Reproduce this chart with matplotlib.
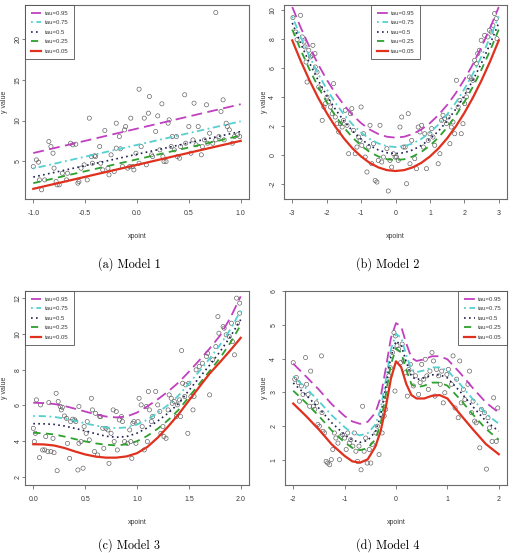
import matplotlib
matplotlib.use("Agg")
import matplotlib.pyplot as plt
import numpy as np

plt.rcParams['axes.unicode_minus'] = False
SANS = ['Liberation Sans Narrow', 'Liberation Sans', 'DejaVu Sans']
plt.rcParams['font.family'] = SANS

# ---------------- data ----------------
taus = ["tau=0.95", "tau=0.75", "tau=0.5", "tau=0.25", "tau=0.05"]

# Model 1
m1_x = [-1.0, -0.97, -0.95, -0.94, -0.92, -0.89, -0.85, -0.83, -0.81, -0.80, -0.78, -0.77, -0.75, -0.72,
        -0.68, -0.67, -0.64, -0.62, -0.59, -0.57, -0.56, -0.54, -0.51, -0.48, -0.46, -0.44, -0.43, -0.41,
        -0.40, -0.36, -0.35, -0.33, -0.31, -0.28, -0.27, -0.25, -0.22, -0.20, -0.20, -0.17, -0.16, -0.14,
        -0.12, -0.11, -0.09, -0.07, -0.06, -0.04, -0.03, -0.01, 0.02, 0.02, 0.04, 0.07, 0.09, 0.11, 0.12,
        0.14, 0.15, 0.18, 0.20, 0.22, 0.24, 0.25, 0.26, 0.28, 0.30, 0.31, 0.33, 0.34, 0.36, 0.38, 0.39,
        0.41, 0.42, 0.46, 0.47, 0.50, 0.52, 0.54, 0.55, 0.57, 0.59, 0.62, 0.63, 0.65, 0.67, 0.68, 0.70,
        0.73, 0.76, 0.76, 0.79, 0.81, 0.83, 0.84, 0.86, 0.87, 0.89, 0.92, 0.94, 0.97, 0.99]
m1_y = [4.34, 5.16, 4.88, 2.70, 1.48, 2.70, 7.42, 6.80, 5.98, 4.14, 2.50, 2.09, 2.09, 3.52,
        2.70, 3.52, 7.21, 7.01, 7.09, 2.30, 2.50, 4.14, 4.55, 2.70, 10.29, 5.57, 4.75, 5.66,
        5.57, 6.80, 4.75, 3.93, 8.77, 4.14, 3.32, 5.78, 3.73, 9.67, 6.60, 8.03, 6.52, 4.34,
        8.85, 9.26, 4.14, 4.34, 10.29, 4.34, 3.93, 5.98, 13.85, 4.75, 6.80, 10.29, 4.55, 10.90, 12.95,
        5.78, 5.57, 8.65, 10.57, 6.39, 12.05, 5.57, 4.96, 4.96, 9.67, 10.08, 6.80, 8.03, 6.39, 8.03, 5.57,
        5.37, 6.80, 13.16, 7.21, 9.26, 5.98, 7.62, 12.13, 7.01, 9.26, 5.78, 6.80, 7.62, 11.93, 7.21, 8.44,
        7.21, 23.28, 7.62, 8.03, 11.11, 12.54, 7.62, 9.67, 9.26, 8.85, 7.21, 8.03, 8.24, 8.03]
m1_cx = [-1.0, 1.0]
m1_curves = [[6.0, 12.0], [4.1, 9.9], [3.05, 8.65], [2.3, 8.15], [1.6, 7.5]]

# Model 2
m2_x = [-2.98, -2.90, -2.86, -2.76, -2.71, -2.66, -2.63, -2.60, -2.57, -2.52, -2.47, -2.42, -2.40, -2.34,
        -2.33, -2.28, -2.23, -2.18, -2.13, -2.08, -2.04, -1.99, -1.94, -1.89, -1.84, -1.80, -1.75, -1.70,
        -1.65, -1.60, -1.55, -1.51, -1.46, -1.41, -1.36, -1.31, -1.27, -1.22, -1.17, -1.12, -1.07, -1.03,
        -1.00, -0.98, -0.93, -0.88, -0.83, -0.78, -0.74, -0.69, -0.64, -0.59, -0.54, -0.50, -0.45, -0.40,
        -0.35, -0.25, -0.21, -0.16, -0.11, -0.06, -0.01, 0.03, 0.08, 0.13, 0.18, 0.23, 0.28, 0.32, 0.37,
        0.42, 0.47, 0.56, 0.61, 0.66, 0.71, 0.76, 0.81, 0.85, 0.90, 0.95, 1.00, 1.05, 1.09, 1.14, 1.24,
        1.29, 1.34, 1.38, 1.43, 1.48, 1.53, 1.58, 1.62, 1.67, 1.72, 1.77, 1.82, 1.87, 1.91, 1.96, 2.01,
        2.06, 2.11, 2.15, 2.20, 2.25, 2.30, 2.35, 2.39, 2.44, 2.49, 2.59, 2.68, 2.73, 2.78, 2.83, 2.88,
        2.93, 2.95]
m2_y = [9.47, 8.48, 7.95, 9.63, 8.14, 7.79, 7.45, 6.41, 5.03, 7.22, 6.76, 6.87, 7.56, 6.99,
        6.07, 5.72, 4.69, 4.57, 2.39, 3.31, 3.54, 4.00, 3.66, 3.31, 2.85, 4.92, 2.62, 2.16,
        1.59, 2.16, 1.93, 2.39, 3.08, 2.05, 0.09, 2.85, 3.20, 1.70, 0.09, 0.55, 1.24, 1.01,
        3.31, 0.67, 1.47, -0.14, -1.17, 0.55, 2.05, -0.60, 0.78, -1.75, -1.86, -0.37, 2.05, -0.48,
        -0.14, 0.44, -2.48, -0.37, -0.83, 0.09, -0.14, -0.14, -0.37, 1.93, 2.62, 0.55, 0.55, -1.98, 2.85,
        -0.60, 1.01, -0.25, -0.94, 1.93, 1.59, 2.05, 0.55, 1.47, -0.94, 1.01, 1.47, 1.82, 1.24, 0.67, -0.60,
        0.09, 2.39, 2.74, 2.51, 2.16, 2.62, 0.78, 1.93, 2.28, 1.47, 5.15, 3.31, 3.77, 1.47, 2.16, 3.54,
        4.00, 4.46, 5.38, 5.26, 5.15, 6.53, 6.30, 6.99, 7.22, 7.91, 8.25, 8.14, 8.60, 8.48, 8.94, 9.75,
        9.40, 8.02]
m2_cx = [-3.0, -2.75, -2.5, -2.25, -2.0, -1.75, -1.5, -1.25, -1.0, -0.75, -0.5, -0.25, 0.0,
         0.25, 0.5, 0.75, 1.0, 1.25, 1.5, 1.75, 2.0, 2.25, 2.5, 2.75, 3.0]
m2_curves = [
    [10.2, 8.76, 7.45, 6.26, 5.2, 4.26, 3.45, 2.76, 2.2, 1.76, 1.45, 1.26, 1.2,
     1.26, 1.45, 1.76, 2.2, 2.76, 3.45, 4.26, 5.2, 6.26, 7.45, 8.76, 10.2],
    [9.55, 8.11, 6.8, 5.61, 4.55, 3.61, 2.8, 2.11, 1.55, 1.11, 0.8, 0.61, 0.55,
     0.61, 0.8, 1.11, 1.55, 2.11, 2.8, 3.61, 4.55, 5.61, 6.8, 8.11, 9.55],
    [9.1, 7.66, 6.35, 5.16, 4.1, 3.16, 2.35, 1.66, 1.1, 0.66, 0.35, 0.16, 0.1,
     0.16, 0.35, 0.66, 1.1, 1.66, 2.35, 3.16, 4.1, 5.16, 6.35, 7.66, 9.1],
    [8.65, 7.21, 5.9, 4.71, 3.65, 2.71, 1.9, 1.21, 0.65, 0.21, -0.1, -0.29, -0.35,
     -0.29, -0.1, 0.21, 0.65, 1.21, 1.9, 2.71, 3.65, 4.71, 5.9, 7.21, 8.65],
    [7.9, 6.46, 5.15, 3.96, 2.9, 1.96, 1.15, 0.46, -0.1, -0.54, -0.85, -1.04, -1.1,
     -1.04, -0.85, -0.54, -0.1, 0.46, 1.15, 1.96, 2.9, 3.96, 5.15, 6.46, 7.9],
]

# Model 3
m3_x = [0.0, 0.01, 0.02, 0.03, 0.06, 0.07, 0.09, 0.11, 0.12, 0.14, 0.15, 0.17, 0.19, 0.20, 0.22, 0.23,
        0.24, 0.26, 0.27, 0.28, 0.30, 0.32, 0.33, 0.35, 0.36, 0.38, 0.40, 0.41, 0.43, 0.44, 0.44, 0.46,
        0.48, 0.49, 0.51, 0.52, 0.54, 0.56, 0.57, 0.59, 0.60, 0.62, 0.64, 0.65, 0.67, 0.68, 0.70, 0.72,
        0.73, 0.75, 0.77, 0.78, 0.80, 0.81, 0.83, 0.85, 0.86, 0.88, 0.91, 0.93, 0.94, 0.95, 0.96, 0.97,
        0.99, 1.01, 1.02, 1.04, 1.05, 1.07, 1.09, 1.10, 1.11, 1.12, 1.14, 1.15, 1.18, 1.20, 1.22, 1.23,
        1.25, 1.26, 1.28, 1.30, 1.31, 1.33, 1.34, 1.36, 1.38, 1.39, 1.41, 1.42, 1.43, 1.44, 1.46, 1.47,
        1.49, 1.50, 1.52, 1.54, 1.55, 1.57, 1.60, 1.63, 1.67, 1.68, 1.70, 1.73, 1.76, 1.78, 1.79, 1.83,
        1.84, 1.86, 1.89, 1.91, 1.92, 1.94, 1.96, 1.97, 1.99, 1.99]
m3_y = [4.72, 3.98, 4.44, 6.31, 3.08, 6.03, 3.51, 3.51, 4.26, 3.42, 6.16, 3.42, 4.16, 3.36, 6.68, 2.35,
        6.22, 5.94, 5.75, 5.90, 5.41, 5.28, 3.88, 3.04, 5.10, 5.23, 5.19, 5.10, 2.39, 5.94, 3.88, 3.98,
        2.49, 4.82, 4.44, 5.10, 4.07, 6.40, 5.75, 3.42, 5.56, 3.23, 5.38, 5.38, 4.72, 3.60, 4.72, 4.63,
        2.76, 4.44, 5.75, 3.98, 5.66, 3.51, 5.19, 5.38, 5.10, 3.98, 3.88, 4.63, 3.98, 3.04, 5.00, 5.10,
        3.88, 5.10, 6.40, 6.03, 4.82, 3.51, 5.94, 3.98, 6.78, 5.75, 5.10, 5.38, 6.78, 6.03, 5.66, 4.44,
        4.82, 4.26, 4.16, 5.75, 6.59, 6.40, 6.12, 6.22, 5.38, 6.03, 6.31, 5.38, 9.07, 7.24, 6.50, 7.15,
        4.44, 7.24, 6.50, 5.75, 6.50, 7.99, 8.18, 8.36, 8.74, 8.92, 6.59, 8.55, 9.29, 10.97, 10.04, 10.41,
        10.32, 9.95, 9.85, 10.60, 9.57, 8.83, 12.0, 10.60, 11.16, 11.72]
m3_cx = [0.0, 0.1, 0.2, 0.3, 0.4, 0.5, 0.6, 0.7, 0.8, 0.9, 1.0, 1.1, 1.2, 1.3, 1.4, 1.5, 1.6, 1.7, 1.8, 1.9, 2.0]
m3_curves = [
    [6.15, 6.13, 6.08, 5.97, 5.82, 5.66, 5.5, 5.38, 5.33, 5.38, 5.6, 5.95, 6.34, 6.78, 7.28, 7.88, 8.52, 9.18, 9.9, 10.9, 12.1],
    [5.41, 5.40, 5.36, 5.27, 5.14, 5.0, 4.87, 4.77, 4.73, 4.77, 4.93, 5.2, 5.59, 6.03, 6.55, 7.22, 7.9, 8.62, 9.38, 10.25, 11.3],
    [4.98, 4.97, 4.94, 4.85, 4.72, 4.58, 4.42, 4.28, 4.22, 4.26, 4.45, 4.75, 5.13, 5.57, 6.1, 6.84, 7.55, 8.25, 9.0, 9.85, 10.8],
    [4.47, 4.44, 4.38, 4.26, 4.12, 3.99, 3.88, 3.8, 3.77, 3.82, 4.0, 4.3, 4.7, 5.18, 5.75, 6.47, 7.2, 7.92, 8.65, 9.5, 10.5],
    [3.83, 3.82, 3.76, 3.62, 3.43, 3.26, 3.14, 3.08, 3.08, 3.15, 3.33, 3.68, 4.2, 4.82, 5.5, 6.27, 7.03, 7.78, 8.42, 9.08, 9.78],
]

# Model 4
m4_x = [-2.0, -1.97, -1.94, -1.90, -1.88, -1.84, -1.81, -1.76, -1.74, -1.71, -1.68, -1.66, -1.61, -1.58,
        -1.55, -1.52, -1.49, -1.45, -1.44, -1.42, -1.39, -1.36, -1.33, -1.29, -1.26, -1.23, -1.20, -1.17,
        -1.13, -1.10, -1.07, -1.04, -1.00, -0.97, -0.94, -0.91, -0.88, -0.84, -0.81, -0.78, -0.75, -0.72,
        -0.68, -0.65, -0.62, -0.59, -0.56, -0.52, -0.49, -0.46, -0.39, -0.36, -0.33, -0.30, -0.27, -0.23,
        -0.22, -0.20, -0.17, -0.14, -0.11, -0.07, -0.04, -0.02, -0.01, 0.02, 0.05, 0.09, 0.12, 0.15, 0.18,
        0.22, 0.25, 0.28, 0.31, 0.34, 0.38, 0.44, 0.47, 0.50, 0.54, 0.57, 0.60, 0.63, 0.66, 0.70, 0.73,
        0.76, 0.79, 0.83, 0.86, 0.89, 0.92, 0.95, 0.99, 1.02, 1.08, 1.11, 1.15, 1.18, 1.21, 1.24, 1.27,
        1.31, 1.34, 1.40, 1.43, 1.47, 1.50, 1.53, 1.56, 1.63, 1.66, 1.72, 1.76, 1.79, 1.82, 1.87, 1.90,
        1.95, 1.98]
m4_y = [3.88, 3.39, 3.44, 3.29, 2.74, 3.19, 2.94, 4.03, 3.24, 2.94, 2.59, 3.63, 2.59, 2.50,
        2.69, 2.05, 2.00, 4.08, 2.40, 1.85, 1.80, 0.96, 0.91, 0.86, 1.01, 1.31, 1.80, 1.65,
        1.50, 1.01, 1.70, 1.75, 1.65, 1.31, 1.80, 1.50, 1.60, 1.41, 1.80, 1.26, 0.96, 1.41,
        0.71, 2.59, 1.26, 1.65, 0.91, 1.31, 0.91, 1.46, 1.80, 2.00, 1.16, 2.35, 1.80, 2.30,
        2.79, 2.50, 3.09, 3.49, 3.73, 4.18, 4.77, 3.04, 4.67, 4.38, 4.28, 3.88, 4.43, 3.93, 3.58,
        2.89, 3.68, 3.83, 3.58, 3.19, 3.49, 2.94, 3.29, 3.83, 3.39, 3.98, 3.49, 3.09, 3.63, 4.18, 3.93,
        2.89, 3.68, 3.49, 3.24, 3.63, 2.69, 2.99, 3.53, 3.68, 3.24, 4.08, 2.54, 3.39, 2.25, 3.93, 2.69,
        3.09, 2.79, 3.24, 3.63, 2.40, 2.74, 2.15, 2.10, 1.36, 2.50, 2.40, 0.73, 2.25, 1.95, 1.55, 2.84,
        1.55, 2.54]
m4_cx = [-2.0, -1.75, -1.5, -1.25, -1.0, -0.85, -0.7, -0.55, -0.4, -0.3, -0.2, -0.1, 0.0,
         0.1, 0.2, 0.3, 0.4, 0.55, 0.7, 0.85, 1.0, 1.25, 1.5, 1.75, 2.0]
m4_curves = [
    [3.85, 3.47, 3.08, 2.65, 2.3, 2.14, 2.07, 2.13, 2.4, 2.85, 3.7, 4.6, 5.05,
     4.95, 4.45, 4.02, 3.93, 3.98, 4.07, 4.07, 3.98, 3.57, 3.12, 2.7, 2.4],
    [3.48, 3.12, 2.74, 2.32, 1.97, 1.8, 1.73, 1.79, 2.05, 2.5, 3.35, 4.27, 4.73,
     4.62, 4.1, 3.68, 3.6, 3.65, 3.74, 3.74, 3.65, 3.24, 2.79, 2.37, 2.07],
    [3.28, 2.92, 2.53, 2.1, 1.75, 1.59, 1.52, 1.58, 1.84, 2.3, 3.15, 4.05, 4.52,
     4.4, 3.9, 3.47, 3.38, 3.43, 3.52, 3.52, 3.43, 3.02, 2.57, 2.15, 1.85],
    [3.05, 2.69, 2.3, 1.87, 1.52, 1.36, 1.29, 1.35, 1.61, 2.07, 2.92, 3.83, 4.3,
     4.18, 3.67, 3.24, 3.15, 3.2, 3.29, 3.29, 3.2, 2.79, 2.34, 1.92, 1.6],
    [2.67, 2.3, 1.9, 1.46, 1.12, 0.96, 0.92, 1.02, 1.4, 1.85, 2.55, 3.4, 3.92,
     3.75, 3.25, 2.92, 2.82, 2.82, 2.9, 2.92, 2.82, 2.35, 1.9, 1.47, 1.17],
]

captions = ["(a) Model 1", "(b) Model 2", "(c) Model 3", "(d) Model 4"]

# ---------------- styles ----------------
colors = ["#c040c0", "#55d0d0", "#222255", "#2ea02e", "#e0301e"]
styles = [(0, (6, 3)), (0, (1, 2, 4, 2)), (0, (1, 2)), (0, (4, 3)), "-"]
widths = [1.3, 1.3, 1.2, 1.3, 1.6]

W, H = 513, 553
fig = plt.figure(figsize=(W / 100, H / 100), dpi=100)

def rect(l, t, r, b):
    return [l / W, 1 - b / H, (r - l) / W, (b - t) / H]

panels = [
    dict(pos=rect(25, 5, 249, 199), x=m1_x, y=m1_y, cx=m1_cx, cur=m1_curves,
         xlim=(-1.08, 1.08), ylim=(0.35, 24.2), xt=[-1.0, -0.5, 0.0, 0.5, 1.0],
         xtl=["-1.0", "-0.5", "0.0", "0.5", "1.0"], yt=[5, 10, 15, 20], loc="upper left", ypad=0.3),
    dict(pos=rect(284, 5, 507, 199), x=m2_x, y=m2_y, cx=m2_cx, cur=m2_curves,
         xlim=(-3.24, 3.24), ylim=(-3.03, 10.34), xt=[-3, -2, -1, 0, 1, 2, 3],
         xtl=["-3", "-2", "-1", "0", "1", "2", "3"], yt=[-2, 0, 2, 4, 6, 8, 10], loc="upper center", ypad=3.5),
    dict(pos=rect(25, 291, 249, 485), x=m3_x, y=m3_y, cx=m3_cx, cur=m3_curves,
         xlim=(-0.08, 2.08), ylim=(1.55, 12.4), xt=[0.0, 0.5, 1.0, 1.5, 2.0],
         xtl=["0.0", "0.5", "1.0", "1.5", "2.0"], yt=[2, 4, 6, 8, 10, 12], loc="upper left", ypad=0.3),
    dict(pos=rect(285, 291, 507, 485), x=m4_x, y=m4_y, cx=m4_cx, cur=m4_curves,
         xlim=(-2.16, 2.16), ylim=(0.26, 6.0), xt=[-2, -1, 0, 1, 2],
         xtl=["-2", "-1", "0", "1", "2"], yt=[1, 2, 3, 4, 5, 6], loc="upper right", ypad=3.5),
]

gray = "#6a6a6a"
tcol = "#3a3a3a"
for p in panels:
    ax = fig.add_axes(p["pos"])
    ax.scatter(p["x"], p["y"], s=9, facecolors="none", edgecolors="#5a5a5a", linewidths=0.45, zorder=2)
    handles = []
    for c, ls, lw, yy, lab in zip(colors, styles, widths, p["cur"], taus):
        h, = ax.plot(p["cx"], yy, color=c, linestyle=ls, linewidth=lw, label=lab, zorder=3)
        handles.append(h)
    ax.set_xlim(*p["xlim"])
    ax.set_ylim(*p["ylim"])
    ax.set_xticks(p["xt"])
    ax.set_xticklabels(p["xtl"])
    ax.set_yticks(p["yt"])
    ax.set_yticklabels([str(v) for v in p["yt"]], rotation=90, va="center")
    ax.tick_params(axis="x", length=3, width=0.6, color=gray, labelsize=5, labelcolor=tcol, pad=5)
    ax.tick_params(axis="y", length=2, width=0.6, color=gray, labelsize=5, labelcolor=tcol, pad=p["ypad"])
    for s in ax.spines.values():
        s.set_color(gray)
        s.set_linewidth(0.8)
    w_px = p["pos"][2] * W
    h_px = p["pos"][3] * H
    ax.set_xlabel("xpoint", fontsize=5, color=tcol)
    ax.xaxis.set_label_coords(0.5, -34 / h_px)
    ax.set_ylabel("y value", fontsize=5, color=tcol)
    ax.yaxis.set_label_coords(-16.5 / w_px, 0.5)
    leg = ax.legend(handles=handles, loc=p["loc"], fontsize=4.3, frameon=True, fancybox=False,
                    borderaxespad=0, handlelength=1.8, handletextpad=0.5, labelspacing=0.72,
                    borderpad=0.95)
    leg.get_frame().set_edgecolor("#444444")
    leg.get_frame().set_linewidth(0.7)
    for t in leg.get_texts():
        t.set_color(tcol)

cap_font = ['cmr10', 'DejaVu Serif']
fig.text(129 / W, 1 - 264 / H, captions[0], ha="center", va="center", fontsize=8.8, family=cap_font)
fig.text(388 / W, 1 - 264 / H, captions[1], ha="center", va="center", fontsize=8.8, family=cap_font)
fig.text(129 / W, 1 - 552 / H, captions[2], ha="center", va="bottom", fontsize=8.8, family=cap_font)
fig.text(388 / W, 1 - 552 / H, captions[3], ha="center", va="bottom", fontsize=8.8, family=cap_font)

fig.savefig("out.png", dpi=100)
